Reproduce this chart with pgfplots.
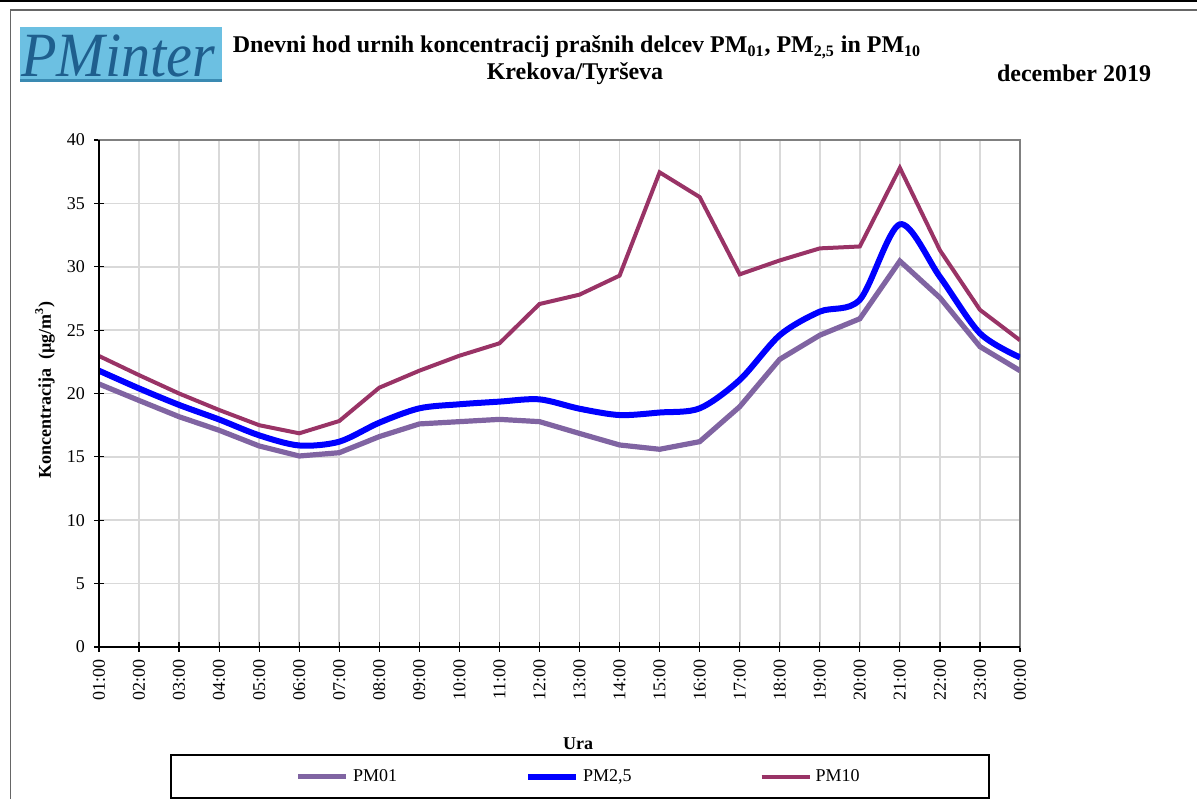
\documentclass[border=0pt]{standalone}
\usepackage{fontspec}
\setmainfont{Liberation Serif}
\usepackage{pgfplots}
\pgfplotsset{compat=1.18}
\definecolor{pmA}{HTML}{8064A2}
\definecolor{pmB}{HTML}{0000FF}
\definecolor{pmC}{HTML}{993366}
\definecolor{gridc}{HTML}{D9D9D9}
\definecolor{logobg}{HTML}{6CC0E2}
\definecolor{logotx}{HTML}{1F5F8E}
\definecolor{logostrip}{HTML}{3A8AB2}
\begin{document}
\begin{tikzpicture}
\path[use as bounding box] (0,0) rectangle (598.5pt,399.5pt);
\draw[black,line width=0.8pt] (0,399.1pt) -- (598.5pt,399.1pt);
\draw[gray!80!black,line width=0.8pt] (5.25pt,0) -- (5.25pt,394.5pt) -- (598.5pt,394.5pt);
% logo
\fill[logobg] (10pt,358.5pt) rectangle (111pt,386pt);
\fill[logostrip] (10pt,358.5pt) rectangle (111pt,360pt);
\node[anchor=base west,inner sep=0pt,text=logotx,font=\fontsize{30}{30}\selectfont\itshape] at (10.5pt,361pt) {\scalebox{0.97}[1.05]{PMinter}};
% titles
\node[font=\fontsize{12}{14}\selectfont\bfseries,inner sep=0pt] at (288.5pt,376pt) {Dnevni hod urnih koncentracij prašnih delcev PM\textsubscript{01}, PM\textsubscript{2,5} in PM\textsubscript{10}};
\node[font=\fontsize{12}{14}\selectfont\bfseries,inner sep=0pt] at (287.5pt,362.5pt) {Krekova/Tyrševa};
\node[font=\fontsize{12}{14}\selectfont\bfseries,inner sep=0pt] at (537pt,363pt) {december 2019};
\node[rotate=90,font=\fontsize{9}{10}\selectfont\bfseries,inner sep=0pt] at (22.5pt,204.5pt) {Koncentracija\ \ (µg/m\textsuperscript{3})};
\node[font=\fontsize{9}{10}\selectfont\bfseries,inner sep=0pt] at (289pt,27.5pt) {Ura};
\begin{axis}[
  at={(49.5pt,76pt)}, anchor=south west,
  scale only axis, width=460.5pt, height=253.5pt,
  xmin=0, xmax=23, ymin=0, ymax=40,
  xtick={0,...,23},
  xticklabels={01:00,02:00,03:00,04:00,05:00,06:00,07:00,08:00,09:00,10:00,11:00,12:00,13:00,14:00,15:00,16:00,17:00,18:00,19:00,20:00,21:00,22:00,23:00,00:00},
  ytick={0,5,...,40},
  xtick pos=bottom, ytick pos=left,
  tick align=center, major tick length=5pt,
  tick style={black,line width=0.6pt},
  grid=major, grid style={gridc,line width=0.8pt},
  axis line style={gray,line width=0.75pt},
  /pgf/number format/assume math mode=true,
  tick label style={font=\fontsize{9}{10}\selectfont},
  xticklabel style={rotate=90,anchor=east,xshift=0pt,yshift=0pt},
  yticklabel style={xshift=-1pt},
  legend columns=3,
  legend style={at={(0.522,-0.256)},anchor=center,draw=black,line width=1pt,
    inner xsep=62.5pt,inner ysep=5pt,font=\fontsize{9}{10}\selectfont,
    /tikz/every even column/.append style={column sep=62pt}},
  legend image code/.code={\draw[#1] (0pt,0pt) -- (24pt,0pt);},
  after end axis/.code={\draw[black,line width=0.75pt] (rel axis cs:0,1) -- (rel axis cs:0,0) -- (rel axis cs:1,0);},
]
\addplot[pmA,line width=2.6pt] coordinates {
(0,20.75)(1,19.45)(2,18.17)(3,17.1)(4,15.86)(5,15.07)(6,15.33)(7,16.6)(8,17.6)(9,17.78)(10,17.96)(11,17.78)(12,16.85)(13,15.94)(14,15.6)(15,16.2)(16,18.96)(17,22.7)(18,24.6)(19,25.9)(20,30.45)(21,27.56)(22,23.7)(23,21.8)};
\addlegendentry{PM01}
\addplot[pmB,line width=3pt,smooth] coordinates {
(0,21.8)(1,20.4)(2,19.1)(3,17.95)(4,16.7)(5,15.9)(6,16.2)(7,17.7)(8,18.83)(9,19.15)(10,19.36)(11,19.54)(12,18.8)(13,18.3)(14,18.5)(15,18.83)(16,21.07)(17,24.6)(18,26.46)(19,27.4)(20,33.35)(21,29.2)(22,24.75)(23,22.85)};
\addlegendentry{PM2,5}
\addplot[pmC,line width=2pt] coordinates {
(0,22.96)(1,21.45)(2,20.0)(3,18.7)(4,17.5)(5,16.86)(6,17.83)(7,20.46)(8,21.8)(9,22.98)(10,23.96)(11,27.06)(12,27.8)(13,29.3)(14,37.45)(15,35.5)(16,29.4)(17,30.5)(18,31.45)(19,31.6)(20,37.8)(21,31.3)(22,26.6)(23,24.2)};
\addlegendentry{PM10}
\end{axis}
\end{tikzpicture}
\end{document}
